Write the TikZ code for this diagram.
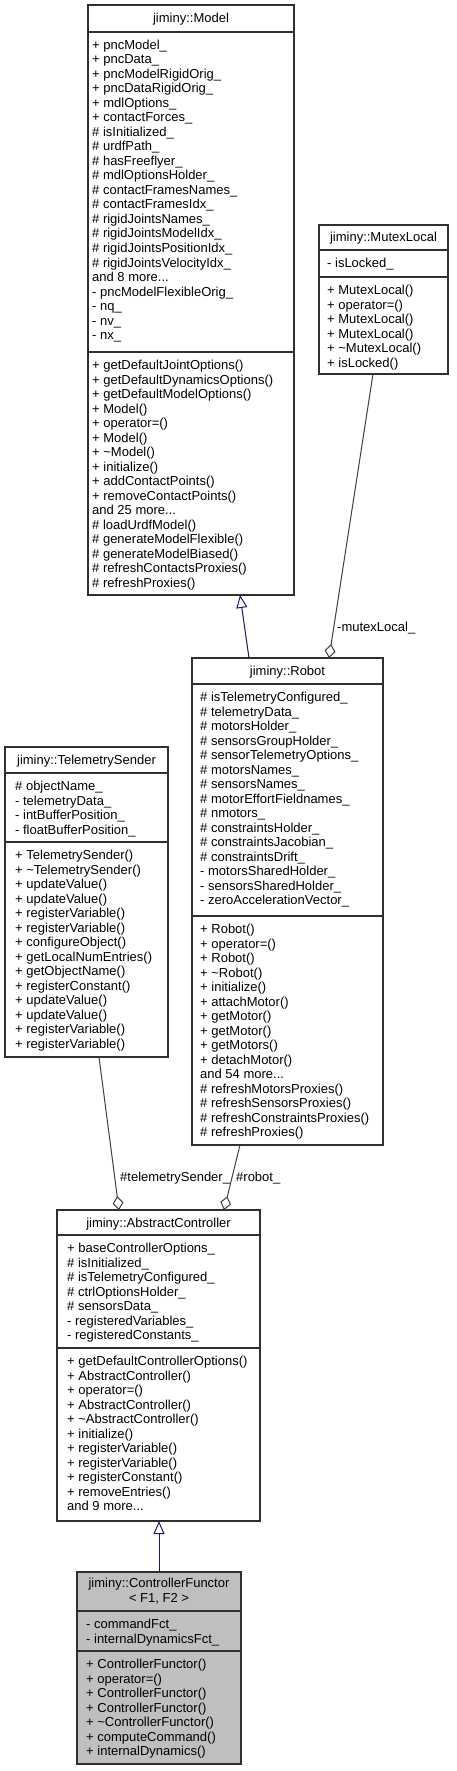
\documentclass[tikz,border=0pt]{standalone}
\usepackage{fontspec}
\setmainfont{Liberation Sans}
\usetikzlibrary{arrows.meta}
\definecolor{inhblue}{HTML}{191970}
\definecolor{compgrey}{HTML}{404040}
\definecolor{curfill}{HTML}{BFBFBF}
\definecolor{boxline}{HTML}{303030}
\newcommand{\threedots}{...}
\newcommand{\cltext}[4]{%
  \foreach \t [count=\i from 0] in {#4} {\node[txt] (#3-\i) at (#1, #2+17.5+14.5*\i) {\t};}%
}
\begin{document}
\begin{tikzpicture}[x=1pt,y=-1pt,
  cls/.style={draw=boxline, line width=1.2pt, fill=white, rectangle, inner sep=0pt, outer sep=0pt, anchor=north west},
  cur/.style={cls, fill=curfill},
  sepline/.style={draw=boxline, line width=1.2pt},
  txt/.style={anchor=base west, inner sep=0pt, font=\fontsize{13}{14.5}\selectfont},
  ttl/.style={anchor=base, inner sep=0pt, font=\fontsize{13}{14.5}\selectfont},
  lbl/.style={anchor=base west, inner sep=0pt, font=\fontsize{13}{14.5}\selectfont},
  comp/.style={draw=compgrey, line width=1pt, -{Diamond[open, length=14pt, width=11pt, line width=1pt]}},
  inh/.style={draw=inhblue, line width=1pt, -{Triangle[open, length=13pt, width=11pt, line width=1pt]}}
]
\useasboundingbox (0,0) rectangle (456,1771);
\fill[white] (0,0) rectangle (456,1771);

% ---------- jiminy::Model ----------
\node[cls, minimum width=206pt, minimum height=590pt] (model) at (88,5) {};
\draw[sepline] (88,32) -- (294,32);
\draw[sepline] (88,352) -- (294,352);
\node[ttl] (model-t) at (191,23) {jiminy::Model};
\cltext{92}{32}{ma}{+ pncModel\_, + pncData\_, + pncModelRigidOrig\_, + pncDataRigidOrig\_, + mdlOptions\_, + contactForces\_, \# isInitialized\_, \# urdfPath\_, \# hasFreeflyer\_, \# mdlOptionsHolder\_, \# contactFramesNames\_, \# contactFramesIdx\_, \# rigidJointsNames\_, \# rigidJointsModelIdx\_, \# rigidJointsPositionIdx\_, \# rigidJointsVelocityIdx\_, and 8 more\threedots, - pncModelFlexibleOrig\_, - nq\_, - nv\_, - nx\_}
\cltext{92}{352}{mm}{+ getDefaultJointOptions(), + getDefaultDynamicsOptions(), + getDefaultModelOptions(), + Model(), + operator=(), + Model(), + \textasciitilde Model(), + initialize(), + addContactPoints(), + removeContactPoints(), and 25 more\threedots, \# loadUrdfModel(), \# generateModelFlexible(), \# generateModelBiased(), \# refreshContactsProxies(), \# refreshProxies()}

% ---------- jiminy::MutexLocal ----------
\node[cls, minimum width=129pt, minimum height=149pt] (mutex) at (319,225) {};
\draw[sepline] (319,250) -- (448,250);
\draw[sepline] (319,277) -- (448,277);
\node[ttl] (mutex-t) at (383.5,242) {jiminy::MutexLocal};
\cltext{327}{250}{xa}{- isLocked\_}
\cltext{327}{277}{xm}{+ MutexLocal(), + operator=(), + MutexLocal(), + MutexLocal(), + \textasciitilde MutexLocal(), + isLocked()}

% ---------- jiminy::Robot ----------
\node[cls, minimum width=191pt, minimum height=487pt] (robot) at (192,658) {};
\draw[sepline] (192,684) -- (383,684);
\draw[sepline] (192,916) -- (383,916);
\node[ttl] (robot-t) at (287.5,675.5) {jiminy::Robot};
\cltext{200}{684}{ra}{\# isTelemetryConfigured\_, \# telemetryData\_, \# motorsHolder\_, \# sensorsGroupHolder\_, \# sensorTelemetryOptions\_, \# motorsNames\_, \# sensorsNames\_, \# motorEffortFieldnames\_, \# nmotors\_, \# constraintsHolder\_, \# constraintsJacobian\_, \# constraintsDrift\_, - motorsSharedHolder\_, - sensorsSharedHolder\_, - zeroAccelerationVector\_}
\cltext{200}{916}{rm}{+ Robot(), + operator=(), + Robot(), + \textasciitilde Robot(), + initialize(), + attachMotor(), + getMotor(), + getMotor(), + getMotors(), + detachMotor(), and 54 more\threedots, \# refreshMotorsProxies(), \# refreshSensorsProxies(), \# refreshConstraintsProxies(), \# refreshProxies()}

% ---------- jiminy::TelemetrySender ----------
\node[cls, minimum width=163pt, minimum height=310pt] (telem) at (5,747) {};
\draw[sepline] (5,773) -- (168,773);
\draw[sepline] (5,842) -- (168,842);
\node[ttl] (telem-t) at (86.5,764.5) {jiminy::TelemetrySender};
\cltext{15}{773}{ta}{\# objectName\_, - telemetryData\_, - intBufferPosition\_, - floatBufferPosition\_}
\cltext{15}{842}{tm}{+ TelemetrySender(), + \textasciitilde TelemetrySender(), + updateValue(), + updateValue(), + registerVariable(), + registerVariable(), + configureObject(), + getLocalNumEntries(), + getObjectName(), + registerConstant(), + updateValue(), + updateValue(), + registerVariable(), + registerVariable()}

% ---------- jiminy::AbstractController ----------
\node[cls, minimum width=203pt, minimum height=311pt] (ac) at (57,1210) {};
\draw[sepline] (57,1235) -- (260,1235);
\draw[sepline] (57,1348) -- (260,1348);
\node[ttl] (ac-t) at (158.5,1227) {jiminy::AbstractController};
\cltext{67}{1235}{aa}{+ baseControllerOptions\_, \# isInitialized\_, \# isTelemetryConfigured\_, \# ctrlOptionsHolder\_, \# sensorsData\_, - registeredVariables\_, - registeredConstants\_}
\cltext{67}{1348}{am}{+ getDefaultControllerOptions(), + AbstractController(), + operator=(), + AbstractController(), + \textasciitilde AbstractController(), + initialize(), + registerVariable(), + registerVariable(), + registerConstant(), + removeEntries(), and 9 more\threedots}

% ---------- jiminy::ControllerFunctor< F1, F2 > ----------
\node[cur, minimum width=164pt, minimum height=192pt] (cf) at (77,1572) {};
\draw[sepline] (77,1611) -- (241,1611);
\draw[sepline] (77,1651) -- (241,1651);
\node[ttl] (cf-t1) at (159,1587.5) {jiminy::ControllerFunctor};
\node[ttl] (cf-t2) at (159,1602.5) {< F1, F2 >};
\cltext{86}{1611}{ca}{- commandFct\_, - internalDynamicsFct\_}
\cltext{86}{1651}{cm}{+ ControllerFunctor(), + operator=(), + ControllerFunctor(), + ControllerFunctor(), + \textasciitilde ControllerFunctor(), + computeCommand(), + internalDynamics()}

% ---------- connectors ----------
\draw[inh] ([xshift=57pt]robot.north west) -- ([xshift=152pt]model.south west);
\draw[comp] ([xshift=54pt]mutex.south west) -- ([xshift=137pt]robot.north west);
\node[lbl] (lmutex) at (337,631.5) {-mutexLocal\_};
\draw[comp] ([xshift=94pt]telem.south west) -- ([xshift=62pt]ac.north west);
\node[lbl] (ltelem) at (120,1181.5) {\#telemetrySender\_};
\draw[comp] ([xshift=48pt]robot.south west) -- ([xshift=167pt]ac.north west);
\node[lbl] (lrobot) at (236,1181.5) {\#robot\_};
\draw[inh] ([xshift=82pt]cf.north west) -- ([xshift=102pt]ac.south west);
\end{tikzpicture}
\end{document}
